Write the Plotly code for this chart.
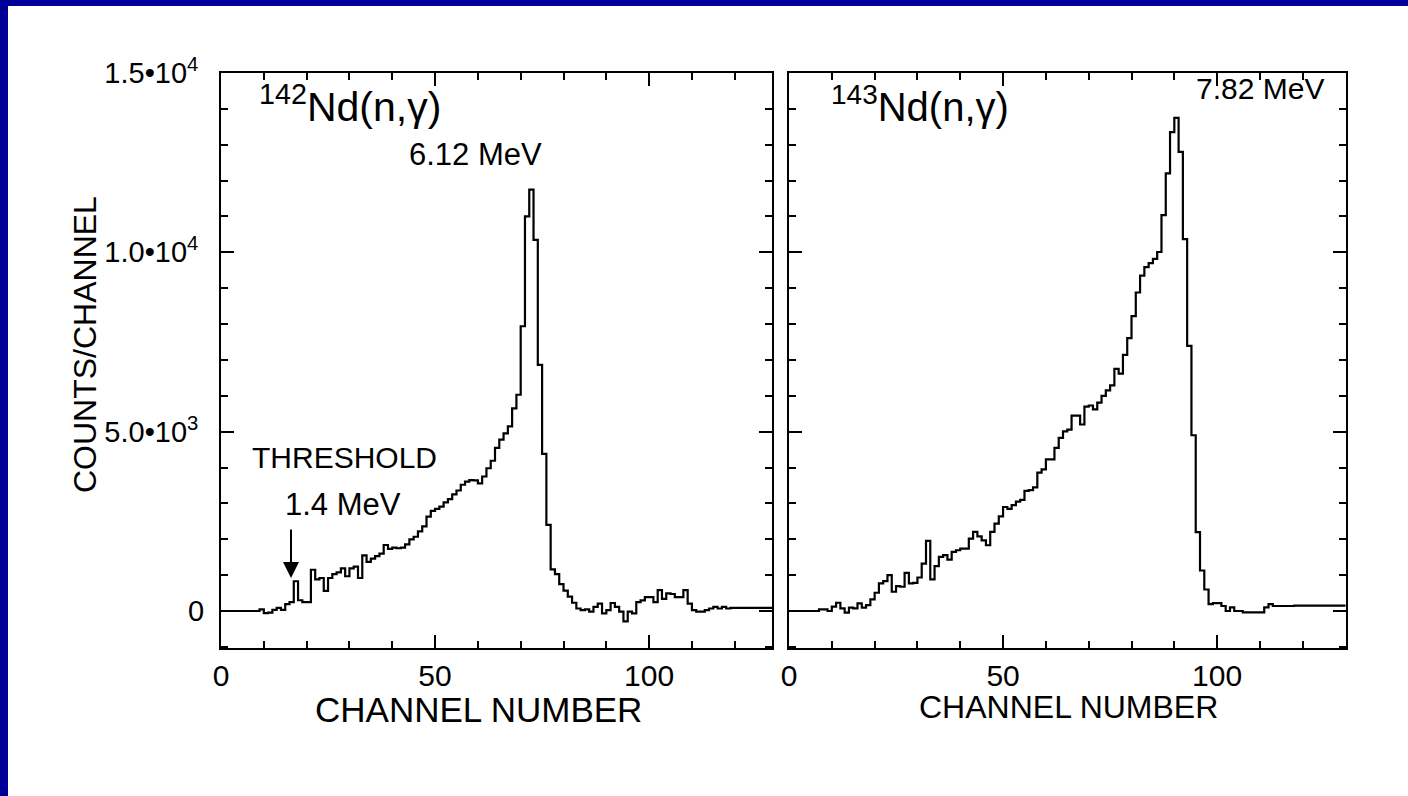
import numpy as np
import plotly.graph_objects as go

W, H = 1408, 796

# ---------------- data (counts per channel) ----------------
channels = list(range(0, 130))

nd142_counts = [
    0, 0, 0, 0, 0, 0, 0, 0, 0, 45,
    -60, -45, 30, 90, 30, 190, 250, 830, 300, 250,
    250, 1150, 880, 920, 560, 920, 1030, 1075, 1190, 970,
    1190, 1240, 920, 1550, 1370, 1460, 1530, 1600, 1840, 1730,
    1770, 1750, 1770, 1860, 2000, 2070, 2220, 2360, 2630, 2790,
    2850, 2910, 3030, 3120, 3250, 3360, 3520, 3610, 3650, 3640,
    3560, 3750, 3980, 4190, 4550, 4780, 4950, 5150, 5650, 6030,
    7940, 11000, 11750, 10350, 6860, 4380, 2400, 1160, 1030, 750,
    570, 400, 230, 70, 27, 45, -18, 116, 206, -63,
    27, 224, 116, -18, -287, -18, -63, 250, 296, 385,
    385, 250, 582, 340, 493, 475, 385, 385, 582, 206,
    27, -18, -18, 27, 70, 116, 70, 116, 70, 90,
    90, 90, 90, 90, 90, 90, 90, 90, 90, 90,
]

nd143_counts = [
    0, 0, 0, 0, 0, 0, 0, 46, 46, 0,
    120, 230, 74, -46, 93, 74, 213, 93, 167, 324,
    509, 769, 833, 1000, 537, 694, 676, 1065, 769, 787,
    935, 1324, 1954, 880, 1250, 1509, 1556, 1435, 1648, 1694,
    1741, 1741, 2019, 2204, 2083, 1972, 1833, 2204, 2435, 2639,
    2900, 2850, 2950, 3050, 3100, 3350, 3370, 3450, 3860, 3950,
    4230, 4230, 4550, 4830, 5010, 5060, 5450, 5450, 5200, 5700,
    5730, 5620, 5810, 6000, 6150, 6290, 6750, 6620, 7140, 7610,
    8220, 8880, 9350, 9590, 9700, 9820, 10010, 11040, 12200, 13350,
    13750, 12800, 10370, 7390, 4900, 2200, 1130, 600, 190, 220,
    220, 140, 0, 100, 0, 0, -40, -40, -40, -40,
    -40, 100, 190, 140, 140, 140, 140, 140, 150, 150,
    150, 150, 150, 150, 150, 150, 150, 150, 150, 150,
]

y_tickvals = [0, 5000, 10000, 15000]
y_ticktext = ["0", "5.0\u202210<sup>3</sup>\u2009", "1.0\u202210<sup>4</sup>\u2009",
              "1.5\u202210<sup>4</sup>\u2009"]
x_tickvals = [0, 50, 100]
x_ticktext = ["0", "50", "100"]

FONT = "Liberation Sans, Arial, Helvetica, sans-serif"
BLUE = "#000099"


def px(x, y):
    return x / W, 1 - y / H


def step_xy(vals):
    xs = channels + [channels[-1] + 1]
    ys = list(vals) + [vals[-1]]
    return xs, ys


fig = go.Figure()

x1, y1 = step_xy(nd142_counts)
x2, y2 = step_xy(nd143_counts)
fig.add_trace(go.Scatter(x=x1, y=y1, mode="lines", line=dict(color="black", width=2.2, shape="hv"),
                         xaxis="x", yaxis="y", showlegend=False, hoverinfo="skip"))
fig.add_trace(go.Scatter(x=x2, y=y2, mode="lines", line=dict(color="black", width=2.2, shape="hv"),
                         xaxis="x2", yaxis="y2", showlegend=False, hoverinfo="skip"))

ydom = [1 - 648 / H, 1 - 73 / H]
yrange = [-1031, 15000]

common_axis = dict(
    showline=True, linecolor="black", linewidth=2, mirror="allticks",
    ticks="inside", ticklen=13, tickwidth=2, tickcolor="black",
    showgrid=False, zeroline=False, automargin=False,
    tickfont=dict(family=FONT, size=30, color="black"),
)

fig.update_layout(
    template="none",
    width=W, height=H,
    margin=dict(l=0, r=0, t=0, b=0, pad=0),
    paper_bgcolor="white", plot_bgcolor="white",
    showlegend=False,
    xaxis=dict(domain=[221 / W, 772 / W], range=[0, 128.7], anchor="y",
               tickvals=x_tickvals, ticktext=x_ticktext,
               minor=dict(dtick=10, tick0=0, ticklen=7, tickwidth=1.5, tickcolor="black", ticks="inside"),
               ticklabelstandoff=0,
               **common_axis),
    yaxis=dict(domain=ydom, range=yrange, anchor="x",
               tickvals=y_tickvals, ticktext=y_ticktext,
               minor=dict(dtick=1000, tick0=0, ticklen=7, tickwidth=1.5, tickcolor="black", ticks="inside"),
               ticklabelstandoff=9,
               **common_axis),
    xaxis2=dict(domain=[789 / W, 1346 / W], range=[0, 130.1], anchor="y2",
                tickvals=x_tickvals, ticktext=x_ticktext,
                minor=dict(dtick=10, tick0=0, ticklen=7, tickwidth=1.5, tickcolor="black", ticks="inside"),
                ticklabelstandoff=0,
                **common_axis),
    yaxis2=dict(domain=ydom, range=yrange, anchor="x2",
                tickvals=y_tickvals, showticklabels=False,
                minor=dict(dtick=1000, tick0=0, ticklen=7, tickwidth=1.5, tickcolor="black", ticks="inside"),
                **common_axis),
)
fig.update_yaxes(tickfont=dict(family=FONT, size=29, color="black"))

# blue frame strips of the slide
fig.add_shape(type="rect", xref="paper", yref="paper", x0=0, x1=8 / W, y0=0, y1=1,
              fillcolor=BLUE, line=dict(width=0), layer="above")
fig.add_shape(type="rect", xref="paper", yref="paper", x0=0, x1=1, y0=1 - 6 / H, y1=1,
              fillcolor=BLUE, line=dict(width=0), layer="above")


def label(text, x, y, size, angle=0):
    ax_, ay_ = px(x, y)
    fig.add_annotation(text=text, x=ax_, y=ay_, xref="paper", yref="paper",
                       showarrow=False, textangle=angle,
                       font=dict(family=FONT, size=size, color="black"),
                       xanchor="center", yanchor="middle")


label("<sup>142</sup>Nd(n,\u03b3)", 350, 104, 41)
label("6.12 MeV", 475, 154, 31)
label("THRESHOLD", 344, 457, 30)
label("1.4 MeV", 343, 504, 31)
label("<sup>143</sup>Nd(n,\u03b3)", 920, 104, 40)
label("7.82 MeV", 1260, 88, 30)
label("COUNTS/CHANNEL", 85, 345, 32, angle=-90)
label("CHANNEL NUMBER", 478, 709, 35)
label("CHANNEL NUMBER", 1068, 707, 32)

# threshold arrow
tx, ty = px(291, 578)
fig.add_annotation(x=tx, y=ty, xref="paper", yref="paper", text="", showarrow=True,
                   ax=0, ay=-50, arrowhead=2, arrowsize=1.6, arrowwidth=2, arrowcolor="black")

fig.write_html(
    "out.html",
    config={"displayModeBar": False},
    post_script="document.body.style.margin='0px';document.body.style.padding='0px';"
                "document.documentElement.style.overflow='hidden';",
)
